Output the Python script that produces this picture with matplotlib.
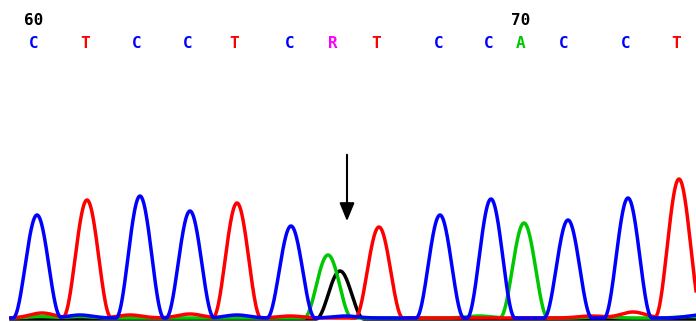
import numpy as np
import matplotlib
matplotlib.use("Agg")
import matplotlib.pyplot as plt

# base calls along the read
bases = ["C", "T", "C", "C", "T", "C", "R", "T", "C", "C", "A", "C", "C", "T"]
base_x = [34, 85, 137, 188, 234, 290, 333, 376, 439, 489, 521, 564, 626, 676]
first_pos = 60

# main peaks per channel: (scan position, signal)
peaks_c = [(37, 103), (140, 122), (190, 107), (291, 92), (440, 103),
           (491, 119), (568, 98), (628, 120)]
peaks_t = [(87, 118), (237, 115), (379, 91), (679, 139)]
peaks_a = [(328, 63), (524, 95)]
peaks_g = [(340, 48)]

# small background bumps per channel
bumps_c = [(80, 3), (237, 3), (700, 3), (345, 2)]
bumps_t = [(42, 5), (130, 3), (190, 4), (290, 2), (633, 6), (590, 2)]
bumps_a = [(40, 1.5), (80, 1.5), (479, 2), (600, 1.5), (690, 1.5)]
bumps_g = []

colors = {"C": "#0000ff", "T": "#ff0000", "A": "#00c800", "G": "#000000",
          "R": "#ff00ff"}


def trace(x, peaks, bumps, half=24.0):
    y = np.zeros_like(x)
    for cx, h in peaks:
        d = np.clip(np.abs(x - cx) / half, 0, 1)
        y += h * np.cos(0.5 * np.pi * d) ** 2
    for cx, h in bumps:
        y += h * np.exp(-0.5 * ((x - cx) / 12.0) ** 2)
    return y


def main():
    fig = plt.figure(figsize=(6.96, 3.22), dpi=100)
    ax = fig.add_axes([0, 0, 1, 1])
    ax.set_xlim(0, 696)
    ax.set_ylim(-4, 318)
    ax.axis("off")

    x = np.linspace(11, 696, 1400)
    ax.plot(x, trace(x, peaks_g, bumps_g) - 1, color=colors["G"], lw=2.5)
    ax.plot(x, trace(x, peaks_a, bumps_a), color=colors["A"], lw=2.5)
    ax.plot(x, trace(x, peaks_t, bumps_t), color=colors["T"], lw=2.5)
    ax.plot(x, trace(x, peaks_c, bumps_c), color=colors["C"], lw=2.5)

    # base letters and position numbers
    for i, (b, bx) in enumerate(zip(bases, base_x)):
        ax.text(bx, 318 - 43, b, color=colors[b], fontsize=11.5,
                fontweight="bold", family="DejaVu Sans Mono",
                ha="center", va="center")
        if (first_pos + i) % 10 == 0:
            ax.text(bx, 318 - 20, str(first_pos + i), color="black",
                    fontsize=11.5, fontweight="bold",
                    family="DejaVu Sans Mono", ha="center", va="center")

    # arrow marking the heterozygous position
    ax.annotate("", xy=(347, 318 - 224), xytext=(347, 318 - 152),
                arrowprops=dict(arrowstyle="-|>,head_width=0.45,head_length=1.1",
                                color="black", lw=1.5))

    fig.savefig("out.png", dpi=100)


if __name__ == "__main__":
    main()
